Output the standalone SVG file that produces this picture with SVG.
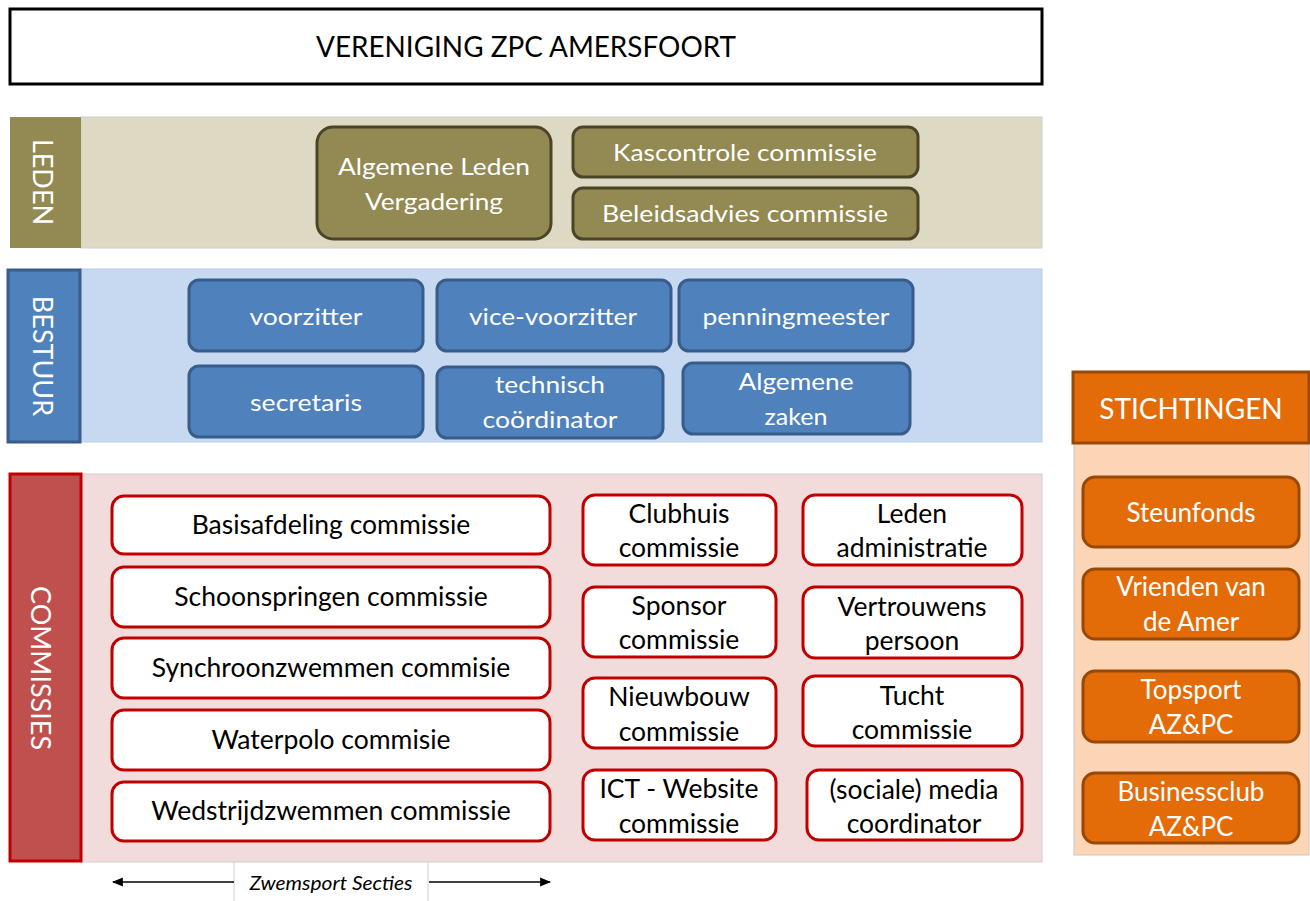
<svg xmlns="http://www.w3.org/2000/svg" width="1310" height="901" viewBox="0 0 1310 901">
<defs>
<marker id="arr" viewBox="0 0 10 10" refX="9" refY="5" markerWidth="11" markerHeight="11" markerUnits="userSpaceOnUse" orient="auto-start-reverse"><path d="M0,1 L10,5 L0,9 z" fill="#000"/></marker>
</defs>
<style>
text{font-family:Lato,"Open Sans","Liberation Sans",sans-serif;text-anchor:middle}
.w{fill:#fff}
.k{fill:#000}
.f24{font-size:24px}
.f26{font-size:26.5px}
.fs{font-size:26px}
.ol{fill:#938953;stroke:#4a4526;stroke-width:3}
.bl{fill:#4f81bd;stroke:#385d8a;stroke-width:3}
.rd{fill:#fff;stroke:#c00000;stroke-width:3}
.or{fill:#e36c09;stroke:#984807;stroke-width:3}
</style>
<rect width="1310" height="901" fill="#fff"/>

<g id="title">
<rect x="10" y="9" width="1032" height="75" fill="#fff" stroke="#000" stroke-width="3"/>
<text x="526" y="57" class="k" font-size="28" textLength="420" lengthAdjust="spacingAndGlyphs">VERENIGING ZPC AMERSFOORT</text>
</g>

<g id="leden">
<rect x="81" y="117" width="961" height="131" fill="#ddd9c3" stroke="#d0d0d0" stroke-width="1"/>
<rect x="10" y="117" width="71" height="131" fill="#938953"/>
<text transform="translate(43,182) rotate(90)" class="w" font-size="27" dominant-baseline="central">LEDEN</text>
</g>
<g id="alv">
<rect x="317" y="127" width="234" height="112" rx="16" class="ol"/>
<text x="434" y="175" class="w f24" textLength="192" lengthAdjust="spacingAndGlyphs">Algemene Leden</text>
<text x="434" y="210" class="w f24" textLength="138" lengthAdjust="spacingAndGlyphs">Vergadering</text>
</g>
<g id="kascontrole">
<rect x="573" y="127" width="345" height="50" rx="10" class="ol"/>
<text x="745" y="161" class="w f24" textLength="264" lengthAdjust="spacingAndGlyphs">Kascontrole commissie</text>
</g>
<g id="beleidsadvies">
<rect x="573" y="188" width="345" height="51" rx="10" class="ol"/>
<text x="745" y="222" class="w f24" textLength="286" lengthAdjust="spacingAndGlyphs">Beleidsadvies commissie</text>
</g>

<g id="bestuur">
<rect x="80" y="269" width="962" height="173" fill="#c6d9f1" stroke="#b9cde5" stroke-width="1"/>
<rect x="8" y="270" width="72" height="172" class="bl"/>
<text transform="translate(43,356) rotate(90)" class="w" font-size="27" dominant-baseline="central">BESTUUR</text>
</g>
<g id="voorzitter">
<rect x="189" y="280" width="234" height="71" rx="10" class="bl"/>
<text x="306" y="325" class="w f24" textLength="113" lengthAdjust="spacingAndGlyphs">voorzitter</text>
</g>
<g id="vice-voorzitter">
<rect x="437" y="280" width="234" height="71" rx="10" class="bl"/>
<text x="553" y="325" class="w f24" textLength="168" lengthAdjust="spacingAndGlyphs">vice-voorzitter</text>
</g>
<g id="penningmeester">
<rect x="679" y="280" width="234" height="71" rx="10" class="bl"/>
<text x="796" y="325" class="w f24" textLength="187" lengthAdjust="spacingAndGlyphs">penningmeester</text>
</g>
<g id="secretaris">
<rect x="189" y="366" width="234" height="71" rx="10" class="bl"/>
<text x="306" y="411" class="w f24" textLength="112" lengthAdjust="spacingAndGlyphs">secretaris</text>
</g>
<g id="technisch">
<rect x="437" y="367" width="226" height="71" rx="10" class="bl"/>
<text x="550" y="393" class="w f24" textLength="110" lengthAdjust="spacingAndGlyphs">technisch</text>
<text x="550" y="428" class="w f24" textLength="135" lengthAdjust="spacingAndGlyphs">coördinator</text>
</g>
<g id="algemene-zaken">
<rect x="683" y="363" width="227" height="71" rx="10" class="bl"/>
<text x="796" y="390" class="w f24" textLength="115" lengthAdjust="spacingAndGlyphs">Algemene</text>
<text x="796" y="425" class="w f24" textLength="63" lengthAdjust="spacingAndGlyphs">zaken</text>
</g>

<g id="commissies">
<rect x="81" y="474" width="961" height="388" fill="#f2dcdb" stroke="#d0d0d0" stroke-width="1"/>
<rect x="10" y="474" width="71" height="387" fill="#c0504d" stroke="#c00000" stroke-width="3"/>
<text transform="translate(41,668) rotate(90)" class="w" font-size="27" dominant-baseline="central">COMMISSIES</text>
</g>
<g id="basisafdeling"><rect x="112" y="496" width="438" height="58" rx="12" class="rd"/><text x="331" y="534" class="k f26">Basisafdeling commissie</text></g>
<g id="schoonspringen"><rect x="112" y="567" width="438" height="60" rx="12" class="rd"/><text x="331" y="606" class="k f26">Schoonspringen  commissie</text></g>
<g id="synchroonzwemmen"><rect x="112" y="638" width="438" height="60" rx="12" class="rd"/><text x="331" y="677" class="k f26">Synchroonzwemmen  commisie</text></g>
<g id="waterpolo"><rect x="112" y="710" width="438" height="60" rx="12" class="rd"/><text x="331" y="749" class="k f26">Waterpolo commisie</text></g>
<g id="wedstrijdzwemmen"><rect x="112" y="782" width="438" height="59" rx="12" class="rd"/><text x="331" y="820" class="k f26">Wedstrijdzwemmen  commissie</text></g>

<g id="clubhuis"><rect x="583" y="495" width="193" height="70" rx="12" class="rd"/><text x="679" y="523" class="k f26">Clubhuis</text><text x="679" y="557" class="k f26">commissie</text></g>
<g id="sponsor"><rect x="583" y="587" width="193" height="70" rx="12" class="rd"/><text x="679" y="615" class="k f26">Sponsor</text><text x="679" y="649" class="k f26">commissie</text></g>
<g id="nieuwbouw"><rect x="583" y="678" width="193" height="70" rx="12" class="rd"/><text x="679" y="706" class="k f26">Nieuwbouw</text><text x="679" y="741" class="k f26">commissie</text></g>
<g id="ict"><rect x="583" y="770" width="193" height="70" rx="12" class="rd"/><text x="679" y="798" class="k f26">ICT - Website</text><text x="679" y="833" class="k f26">commissie</text></g>

<g id="ledenadmin"><rect x="803" y="495" width="219" height="70" rx="12" class="rd"/><text x="912" y="523" class="k f26">Leden</text><text x="912" y="557" class="k f26">administratie</text></g>
<g id="vertrouwens"><rect x="803" y="587" width="219" height="71" rx="12" class="rd"/><text x="912" y="616" class="k f26">Vertrouwens</text><text x="912" y="650" class="k f26">persoon</text></g>
<g id="tucht"><rect x="803" y="676" width="219" height="70" rx="12" class="rd"/><text x="912" y="705" class="k f26">Tucht</text><text x="912" y="739" class="k f26">commissie</text></g>
<g id="media"><rect x="807" y="770" width="215" height="70" rx="12" class="rd"/><text x="914" y="799" class="k f26">(sociale) media</text><text x="914" y="833" class="k f26">coordinator</text></g>

<g id="zwemsport">
<rect x="234" y="862" width="194" height="40" fill="#fff" stroke="#d0d0d0" stroke-width="1"/>
<text x="331" y="890" class="k" font-size="20" font-style="italic" textLength="163" lengthAdjust="spacingAndGlyphs">Zwemsport Secties</text>
</g>
<g id="connectors" stroke="#000" stroke-width="1.5" fill="none">
<line x1="234" y1="882" x2="113" y2="882" marker-end="url(#arr)"/>
<line x1="429" y1="882" x2="550" y2="882" marker-end="url(#arr)"/>
</g>

<g id="stichtingen">
<rect x="1074" y="443" width="235" height="412" fill="#fbd5b5" stroke="#c8c8c8" stroke-width="1"/>
<rect x="1073" y="372" width="236" height="71" class="or"/>
<text x="1191" y="419" class="w" font-size="28">STICHTINGEN</text>
</g>
<g id="steunfonds"><rect x="1083" y="477" width="216" height="70" rx="12" class="or"/><text x="1191" y="522" class="w fs">Steunfonds</text></g>
<g id="vrienden"><rect x="1083" y="569" width="216" height="70" rx="12" class="or"/><text x="1191" y="596" class="w fs">Vrienden van</text><text x="1191" y="631" class="w fs">de Amer</text></g>
<g id="topsport"><rect x="1083" y="671" width="216" height="71" rx="12" class="or"/><text x="1191" y="699" class="w fs">Topsport</text><text x="1191" y="734" class="w fs">AZ&amp;PC</text></g>
<g id="businessclub"><rect x="1083" y="773" width="216" height="70" rx="12" class="or"/><text x="1191" y="801" class="w fs">Businessclub</text><text x="1191" y="836" class="w fs">AZ&amp;PC</text></g>
</svg>
